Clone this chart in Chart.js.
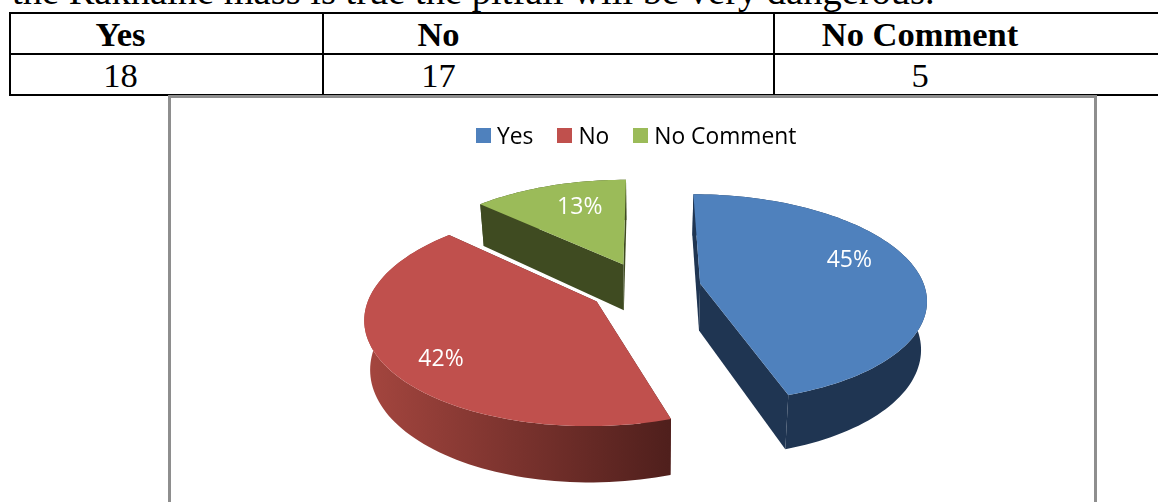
<!DOCTYPE html>
<html>
<head>
<meta charset="utf-8">
<title>Survey result</title>
<script src="https://cdn.jsdelivr.net/npm/chart.js@4/dist/chart.umd.min.js"></script>
<style>
  html, body { margin: 0; padding: 0; background: #fff; overflow: hidden; width: 1158px; height: 502px; }
  #sentence {
    position: absolute; left: 12px; top: -31px; white-space: nowrap;
    font: 38.5px "Liberation Serif", serif; color: #000; line-height: 44px;
  }
  #counts {
    position: absolute; left: 9px; top: 12px; width: 1200px; border-collapse: collapse;
    table-layout: fixed; font: 34.5px "Liberation Serif", serif; color: #000;
  }
  #counts td, #counts th { border: 2px solid #000; padding: 0; text-align: center; line-height: 36px; }
  #counts tr:first-child > * { height: 41px; }
  #counts tr:last-child > * { height: 41px; }
  #frame {
    position: absolute; left: 168px; top: 95px; width: 923px; height: 420px;
    border: 3px solid #8e8e8e; background: #fff;
  }
  #frame canvas { position: absolute; left: 0; top: 0; }
  #legend {
    position: absolute; left: 305px; top: 22px; display: flex; align-items: center; height: 30px;
    font: 22.8px "Open Sans", sans-serif; color: #000; white-space: nowrap;
  }
  #legend i { display: inline-block; width: 15px; height: 15px; margin-right: 6px; }
  #legend span { margin-right: 24px; display: flex; align-items: center; }
</style>
</head>
<body>
<div id="sentence">the Rakhaine mass is true the pitfall will be very dangerous.</div>
<table id="counts"></table>
<div id="frame">
  <canvas id="pie" width="923" height="420"></canvas>
  <div id="legend"></div>
</div>
<script>
// answers and head counts for the table
const categories = ['Yes', 'No', 'No Comment'];
const responses = [18, 17, 5];

// percentages printed on the slices
const shares = [45, 42, 13];

const topColors = ['#4f81bd', '#c0504d', '#9bbb59'];
// side wall shade, left edge to right edge
const wallLeft = ['#1f3552', '#a5463f', '#3f4b21'];
const wallRight = ['#1f3552', '#4f1f1c', '#3f4b21'];

// table cell layout: column width and space kept free to the right of the text
const colWidths = [313, 451, 436];
const colPadRight = [92, 220, 144];

const table = document.getElementById('counts');
function addRow(tag, values) {
  const row = table.insertRow();
  values.forEach((v, i) => {
    const cell = document.createElement(tag);
    cell.textContent = v;
    cell.style.width = colWidths[i] + 'px';
    cell.style.paddingRight = colPadRight[i] + 'px';
    cell.style.boxSizing = 'border-box';
    row.appendChild(cell);
  });
}
addRow('th', categories);
addRow('td', responses);

// perspective camera for the tilted pie, in canvas pixels
const cam = { vx: 474, horizon: -538, G: 1590, H: 5150, D: 7.08, shrink: 0.979, stretch: 1.065 };

// map a point on the unit pie plane to the canvas, lower = bottom face
function project(u, v, lower) {
  const w = cam.D + v;
  let x = cam.vx + cam.G * u / w;
  let y = cam.horizon + cam.H / w;
  if (lower) {
    x = cam.vx + cam.shrink * (x - cam.vx);
    y = cam.horizon + cam.stretch * (y - cam.horizon);
  }
  return [x, y];
}

function fillPoly(ctx, pts, fill) {
  ctx.beginPath();
  pts.forEach((p, i) => i ? ctx.lineTo(p[0], p[1]) : ctx.moveTo(p[0], p[1]));
  ctx.closePath();
  ctx.fillStyle = fill;
  ctx.fill();
}

// label spot for each slice, measured from its tip in pie radii
const labelSpots = [[0.70, 0.25], [-0.617, -0.492], [-0.228, 0.669]];

// draws the arcs chart.js laid out as an extruded pie
const pie3d = {
  id: 'pie3d',
  beforeDatasetDraw(chart) {
    const ctx = chart.ctx;
    const arcs = chart.getDatasetMeta(0).data;

    const parts = arcs.map((arc, i) => {
      const mid = (arc.startAngle + arc.endAngle) / 2;
      const blow = arc.options.offset / arc.outerRadius;
      return { i, arc, ox: Math.cos(mid) * blow, oy: -Math.sin(mid) * blow };
    });

    // far slices first
    parts.sort((a, b) => b.oy - a.oy);

    parts.forEach(({ i, arc, ox, oy }) => {
      const upper = [], lower = [];
      const steps = Math.ceil((arc.endAngle - arc.startAngle) / 0.03);
      for (let s = 0; s <= steps; s++) {
        const a = arc.startAngle + (arc.endAngle - arc.startAngle) * s / steps;
        const u = ox + Math.cos(a), v = oy - Math.sin(a);
        upper.push(project(u, v, false));
        lower.push(project(u, v, true));
      }
      const tipTop = project(ox, oy, false);
      const tipLow = project(ox, oy, true);

      const xs = lower.map(p => p[0]).concat(upper.map(p => p[0]));
      const shade = ctx.createLinearGradient(Math.min(...xs), 0, Math.max(...xs), 0);
      shade.addColorStop(0, wallLeft[i]);
      shade.addColorStop(1, wallRight[i]);

      // cut faces, then the rim, then the lid
      fillPoly(ctx, [tipTop, upper[0], lower[0], tipLow], wallRight[i]);
      fillPoly(ctx, [tipTop, upper[steps], lower[steps], tipLow], wallRight[i]);
      fillPoly(ctx, upper.concat(lower.slice().reverse()), shade);
      fillPoly(ctx, [tipTop].concat(upper), arc.options.backgroundColor);
    });

    ctx.font = '23px "Open Sans", sans-serif';
    ctx.fillStyle = '#fff';
    ctx.textAlign = 'center';
    ctx.textBaseline = 'middle';
    parts.forEach(({ i, ox, oy }) => {
      const p = project(ox + labelSpots[i][0], oy + labelSpots[i][1], false);
      ctx.fillText(shares[i] + '%', p[0], p[1] + 2);
    });

    // the plain arcs are replaced by the shapes above
    return false;
  }
};

const chart = new Chart(document.getElementById('pie'), {
  type: 'pie',
  data: {
    labels: categories,
    datasets: [{
      data: shares,
      backgroundColor: topColors,
      borderWidth: 0,
      radius: 160,
      offset: 40
    }]
  },
  options: {
    responsive: false,
    animation: false,
    events: [],
    plugins: { legend: { display: false }, tooltip: { enabled: false } }
  },
  plugins: [pie3d]
});

// legend built from the chart's own label items
const legendEl = document.getElementById('legend');
Chart.overrides.pie.plugins.legend.labels.generateLabels(chart).forEach(item => {
  const entry = document.createElement('span');
  const box = document.createElement('i');
  box.style.background = item.fillStyle;
  entry.appendChild(box);
  entry.appendChild(document.createTextNode(item.text));
  legendEl.appendChild(entry);
});
</script>
</body>
</html>
